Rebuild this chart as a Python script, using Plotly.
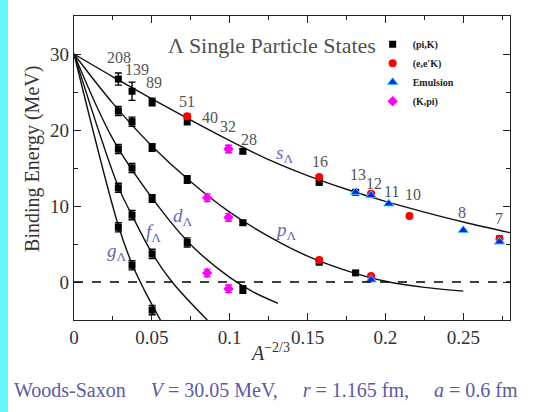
import plotly.graph_objects as go

# ---------------- data ----------------
# (pi,K) data: mass number, binding energy (MeV), error
pik_A = [208, 208, 208, 208, 208, 139, 139, 139, 139, 139, 89, 89, 89, 89, 89,
         51, 51, 51, 28, 28, 28, 16, 16, 13, 13]
pik_B = [26.7, 22.5, 17.5, 12.4, 7.2, 25.1, 21.1, 15.0, 8.8, 2.2,
         23.7, 17.7, 11.0, 3.7, -3.7, 21.2, 13.5, 5.2, 17.2, 7.8, -1.0,
         13.1, 2.6, 11.8, 1.2]
pik_err = [0.8, 0.6, 0.6, 0.6, 0.6, 1.2, 0.6, 0.6, 0.6, 0.6,
           0.5, 0.5, 0.5, 0.6, 0.6, 0.5, 0.5, 0.6, 0.3, 0.3, 0.5,
           0.2, 0.2, 0.2, 0.2]

# (e,e'K) data
eek_A = [51, 16, 16, 12, 12, 10, 7]
eek_B = [21.8, 13.8, 2.9, 11.6, 0.8, 8.7, 5.7]
eek_err = [0.3, 0.2, 0.2, 0.2, 0.2, 0.2, 0.4]

# Emulsion data
emu_A = [13, 12, 12, 11, 8, 7]
emu_B = [11.8, 11.4, 0.3, 10.3, 6.8, 5.3]

# (K,pi) data
kpi_A = [40, 40, 32, 32, 32]
kpi_B = [11.1, 1.2, 17.5, 8.5, -0.9]
kpi_err = [0.5, 0.5, 0.5, 0.5, 0.5]

# Woods-Saxon curves (x = A^-2/3, y = B in MeV)
s_x = [0, 0.025, 0.05, 0.075, 0.1, 0.125, 0.15, 0.175, 0.2, 0.225, 0.25, 0.28]
s_y = [30, 27.0, 24.1, 21.3, 18.6, 16.1, 14.0, 12.2, 10.6, 9.2, 7.9, 6.5]
p_x = [0, 0.025, 0.05, 0.075, 0.1, 0.125, 0.15, 0.175, 0.2, 0.225, 0.25]
p_y = [30, 23.5, 17.9, 13.2, 9.2, 6.0, 3.4, 1.5, 0.1, -0.7, -1.2]
d_x = [0, 0.025, 0.05, 0.075, 0.1, 0.115, 0.131]
d_y = [30, 18.8, 11.1, 4.9, 0.6, -1.3, -2.8]
f_x = [0, 0.0285, 0.0372, 0.0501, 0.063, 0.0856]
f_y = [30, 12.5, 8.8, 3.8, 0.0, -5.0]
g_x = [0, 0.0285, 0.0372, 0.045, 0.0555]
g_y = [30, 7.4, 2.4, -1.0, -5.0]

# mass-number labels
label_A = [208, 139, 89, 51, 40, 32, 28, 16, 13, 12, 11, 10, 8, 7]
label_y = [29.5, 27.9, 26.2, 23.8, 21.6, 20.5, 18.8, 15.8, 14.1, 13.0, 11.9, 11.5, 9.2, 8.3]
label_dx = [1, 5, 2, 0, 3, 0, 6, 1, 2, 3, 3, 4, -1, -1]

states = ["s", "p", "d", "f", "g"]
state_x = [0.135, 0.136, 0.0697, 0.0512, 0.0275]
state_y = [16.9, 6.7, 8.6, 6.5, 3.9]


def xa(A):
    return [a ** (-2.0 / 3.0) for a in A]


fig = go.Figure()

for cx, cy in [(s_x, s_y), (p_x, p_y), (d_x, d_y), (f_x, f_y), (g_x, g_y)]:
    fig.add_trace(go.Scatter(x=cx, y=cy, mode="lines", showlegend=False,
                             line=dict(color="#111111", width=1.4, shape="spline"),
                             hoverinfo="skip"))

fig.add_trace(go.Scatter(
    x=xa(pik_A), y=pik_B, mode="markers", name="(pi,K)",
    marker=dict(symbol="square", size=7, color="black"),
    error_y=dict(type="data", array=pik_err, color="black", thickness=1.4, width=3.5)))
fig.add_trace(go.Scatter(
    x=xa(eek_A), y=eek_B, mode="markers", name="(e,e'K)",
    marker=dict(symbol="circle", size=8, color="red"),
    error_y=dict(type="data", array=eek_err, color="red", thickness=1.4, width=3.5)))
fig.add_trace(go.Scatter(
    x=xa(emu_A), y=emu_B, mode="markers", name="Emulsion",
    marker=dict(symbol="triangle-up", size=9, color="#0022ee",
                line=dict(color="#33ccff", width=1))))
fig.add_trace(go.Scatter(
    x=xa(kpi_A), y=kpi_B, mode="markers", name="(K,pi)",
    marker=dict(symbol="diamond", size=8, color="#ff00ff"),
    error_y=dict(type="data", array=kpi_err, color="#ff00ff", thickness=1.4, width=3.5)))

serif = "Liberation Serif"
ann = []
for A, ly, dx in zip(label_A, label_y, label_dx):
    ann.append(dict(x=A ** (-2.0 / 3.0), y=ly, xref="x", yref="y", text=str(A),
                    showarrow=False, xshift=dx,
                    font=dict(family=serif, size=16, color="#555555")))
for st, sx, sy in zip(states, state_x, state_y):
    ann.append(dict(x=sx, y=sy, xref="x", yref="y",
                    text="<i>%s</i><sub>Λ</sub>" % st, showarrow=False,
                    font=dict(family=serif, size=19, color="#6565c2")))
ann.append(dict(x=0.127, y=31.1, xref="x", yref="y", text="Λ Single Particle States",
                showarrow=False, font=dict(family=serif, size=22, color="#505050")))
ann.append(dict(x=-0.142, y=-0.23, xref="paper", yref="paper", xanchor="left",
                yanchor="middle",
                text="Woods-Saxon &nbsp;&nbsp;&nbsp;&nbsp;<i>V</i> = 30.05 MeV, &nbsp;&nbsp;&nbsp;&nbsp;<i>r</i> = 1.165 fm, &nbsp;&nbsp;&nbsp;&nbsp;<i>a</i> = 0.6 fm",
                showarrow=False, font=dict(family=serif, size=20, color="#5a5aa8")))
ann.append(dict(x=0.45, y=-0.105, xref="paper", yref="paper", yanchor="middle",
                text="<i>A</i><sup>−2/3</sup>", showarrow=False,
                font=dict(family=serif, size=20, color="#333333")))
ann.append(dict(x=-0.094, y=0.53, xref="paper", yref="paper", xanchor="center",
                yanchor="middle", textangle=-90,
                text="Binding Energy (MeV)", showarrow=False,
                font=dict(family=serif, size=20, color="#333333")))

shapes = [
    dict(type="line", xref="paper", yref="y", x0=0, x1=1, y0=0, y1=0,
         line=dict(color="black", width=1.3, dash="dash")),
    dict(type="rect", xref="paper", yref="paper", x0=-0.175, x1=-0.1514,
         y0=-0.31, y1=1.06, fillcolor="#66f6ff", line=dict(width=0), layer="below"),
]

axis_common = dict(showline=True, linecolor="#222222", linewidth=1.3, mirror="ticks",
                   ticks="inside", ticklen=7, tickwidth=1.3, tickcolor="#222222",
                   showgrid=False, zeroline=False,
                   tickfont=dict(family=serif, size=19, color="#333333"))

fig.update_layout(
    width=548, height=412,
    margin=dict(l=74, r=38, t=16, b=92),
    paper_bgcolor="white", plot_bgcolor="white",
    xaxis=dict(range=[0, 0.28], dtick=0.05, tick0=0,
               minor=dict(dtick=0.025, ticklen=4, ticks="inside", tickcolor="#222222"),
               **axis_common),
    yaxis=dict(range=[-5, 35], dtick=10, tick0=0,
               minor=dict(dtick=5, ticklen=4, ticks="inside", tickcolor="#222222"),
               **axis_common),
    legend=dict(x=0.685, y=0.955, xanchor="left", yanchor="top",
                bgcolor="rgba(0,0,0,0)", borderwidth=0, tracegroupgap=0,
                font=dict(family=serif, size=10, color="#222222", weight="bold")),
    annotations=ann, shapes=shapes,
)

fig.write_html("out.html")
